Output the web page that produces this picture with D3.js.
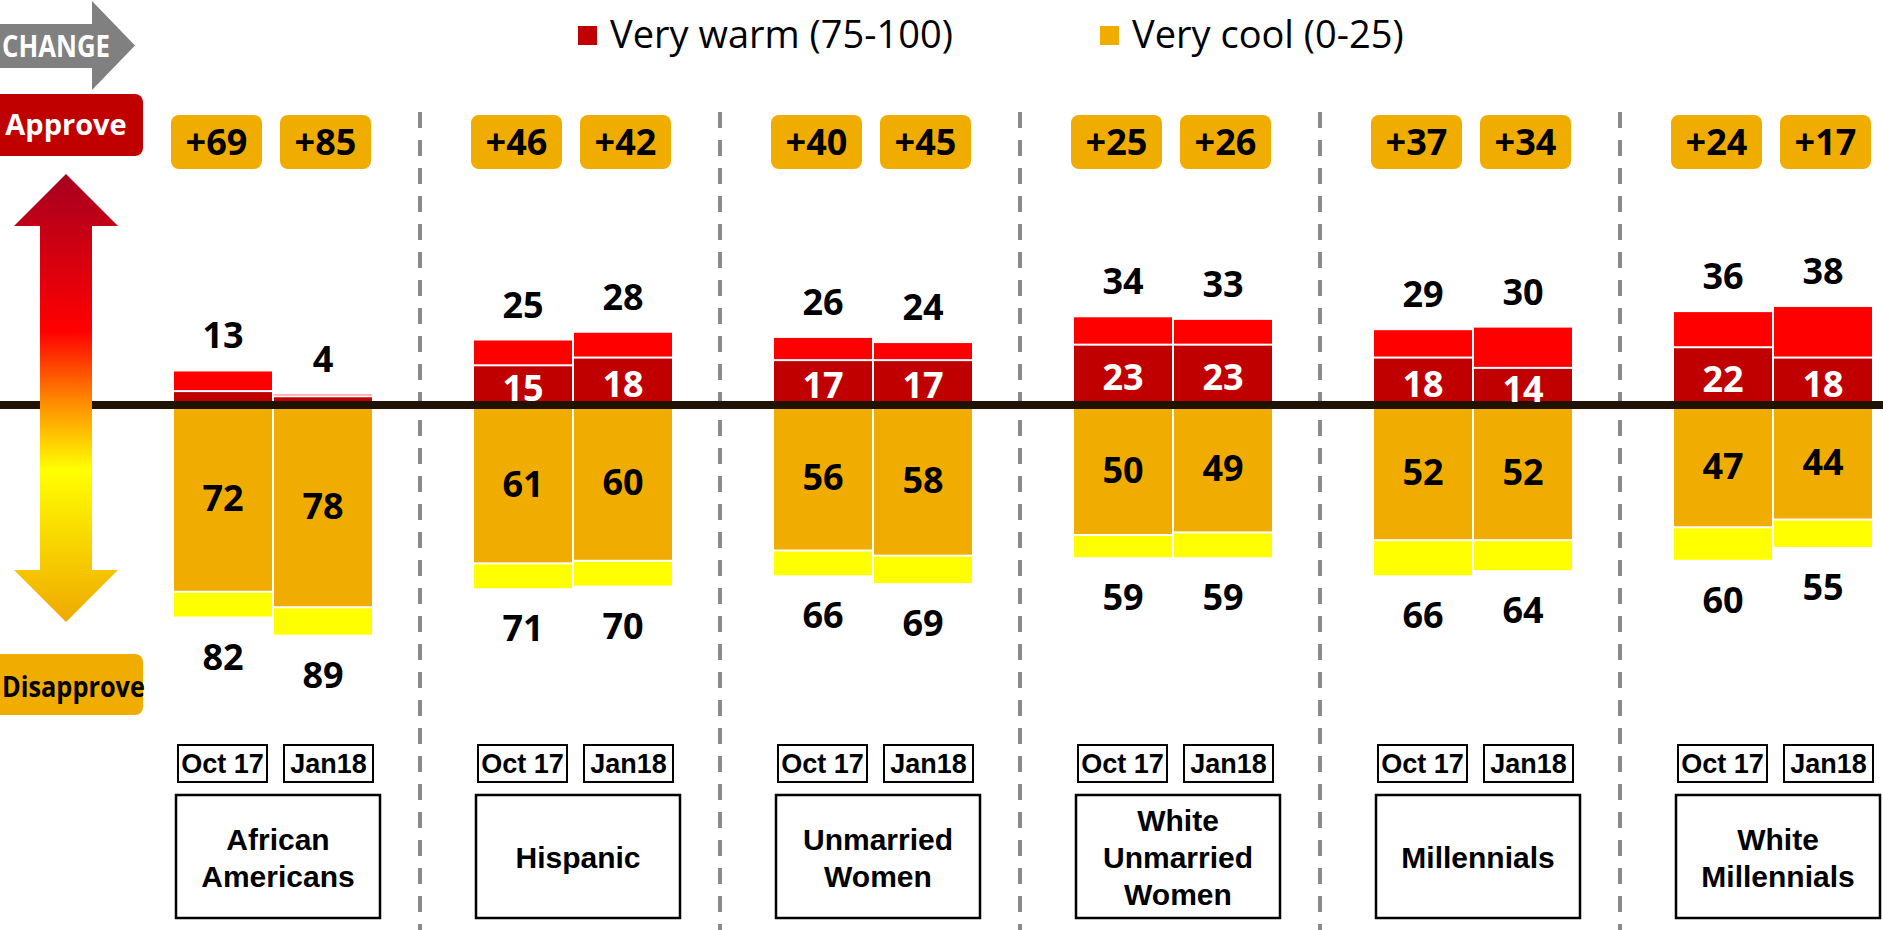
<!DOCTYPE html>
<html>
<head>
<meta charset="utf-8">
<script src="https://cdn.jsdelivr.net/npm/d3@7"></script>
<style>
  html, body { margin: 0; padding: 0; background: #fff; overflow: hidden; }
  svg { display: block; }
</style>
</head>
<body>
<svg id="chart" width="1883" height="930"></svg>
<script>
// ---------- DATA ----------
const groups = ["African Americans", "Hispanic", "Unmarried Women", "White Unmarried Women", "Millennials", "White Millennials"];
const groupLines = [["African", "Americans"], ["Hispanic"], ["Unmarried", "Women"], ["White", "Unmarried", "Women"], ["Millennials"], ["White", "Millennials"]];
const periods = ["Oct 17", "Jan18"];
// very warm (75-100) – dark red segment
const veryWarm = [[5, 3], [15, 18], [17, 17], [23, 23], [18, 14], [22, 18]];
// total warm – label above bar
const totalWarm = [[13, 4], [25, 28], [26, 24], [34, 33], [29, 30], [36, 38]];
// very cool (0-25) – orange segment
const veryCool = [[72, 78], [61, 60], [56, 58], [50, 49], [52, 52], [47, 44]];
// total cool – label below bar
const totalCool = [[82, 89], [71, 70], [66, 69], [59, 59], [66, 64], [60, 55]];
// net change labels
const netChange = [["+69", "+85"], ["+46", "+42"], ["+40", "+45"], ["+25", "+26"], ["+37", "+34"], ["+24", "+17"]];
const legendItems = ["Very warm (75-100)", "Very cool (0-25)"];

// ---------- STYLE ----------
const C = { darkRed: "#C00000", red: "#FF0000", orange: "#F0AD00", yellow: "#FFFF00", line: "#211206", grey: "#808080" };
const numFont = "'Open Sans', sans-serif";
const boxFont = "'Liberation Sans', Arial, sans-serif";

const svg = d3.select("#chart");

// ---------- SCALES ----------
const x = d3.scaleBand().domain(groups).range([123, 1923]).padding(0);
const xi = d3.scaleBand().domain(periods).range([50, 250]).paddingInner(0.02).paddingOuter(0.01);
const y = d3.scaleLinear().domain([-100, 100]).range([405 + 258, 405 - 258]);

// flatten
const rows = [];
groups.forEach((g, gi) => periods.forEach((p, pi) => rows.push({
  g, gi, p, pi,
  vw: veryWarm[gi][pi], tw: totalWarm[gi][pi],
  vc: veryCool[gi][pi], tc: totalCool[gi][pi],
  net: netChange[gi][pi],
  x0: x(g) + xi(p)
})));
const bw = xi.bandwidth();

// ---------- SEPARATORS ----------
svg.append("g").selectAll("line").data(groups.slice(1)).join("line")
  .attr("x1", d => x(d) - 3).attr("x2", d => x(d) - 3)
  .attr("y1", 112).attr("y2", 930)
  .attr("stroke", "#8a8a8a").attr("stroke-width", 4).attr("stroke-dasharray", "16 12");

// ---------- BARS ----------
const bars = svg.append("g");
bars.selectAll(".brt").data(rows).join("rect").attr("class", "brt")
  .attr("x", d => d.x0).attr("width", bw)
  .attr("y", d => y(d.tw)).attr("height", d => Math.max(0, y(d.vw) - 2 - y(d.tw)))
  .attr("fill", C.red);
bars.selectAll(".dk").data(rows).join("rect").attr("class", "dk")
  .attr("x", d => d.x0).attr("width", bw)
  .attr("y", d => y(d.vw)).attr("height", d => y(0) - y(d.vw))
  .attr("fill", C.darkRed);
bars.selectAll(".or").data(rows).join("rect").attr("class", "or")
  .attr("x", d => d.x0).attr("width", bw)
  .attr("y", y(0)).attr("height", d => y(-d.vc) - y(0))
  .attr("fill", C.orange);
bars.selectAll(".ye").data(rows).join("rect").attr("class", "ye")
  .attr("x", d => d.x0).attr("width", bw)
  .attr("y", d => y(-d.vc) + 2).attr("height", d => Math.max(0, y(-d.tc) - y(-d.vc) - 2))
  .attr("fill", C.yellow);

// ---------- BASELINE ----------
svg.append("line").attr("x1", 0).attr("x2", 1883).attr("y1", y(0)).attr("y2", y(0))
  .attr("stroke", C.line).attr("stroke-width", 8);

// ---------- BAR LABELS ----------
const lbl = svg.append("g").attr("font-family", numFont).attr("font-weight", 700).attr("font-size", 36).attr("text-anchor", "middle");
lbl.selectAll(".tw").data(rows).join("text").attr("class", "tw")
  .attr("x", d => d.x0 + bw / 2).attr("y", d => y(d.tw) - 23).text(d => d.tw);
lbl.selectAll(".tc").data(rows).join("text").attr("class", "tc")
  .attr("x", d => d.x0 + bw / 2).attr("y", d => y(-d.tc) + 53).text(d => d.tc);
lbl.selectAll(".vc").data(rows).join("text").attr("class", "vc")
  .attr("x", d => d.x0 + bw / 2).attr("y", d => (y(0) + y(-d.vc)) / 2 + 13).text(d => d.vc);
lbl.selectAll(".vw").data(rows.filter(d => d.vw >= 10)).join("text").attr("class", "vw")
  .attr("x", d => d.x0 + bw / 2).attr("y", d => (y(0) + 4 + y(d.vw)) / 2 + 13)
  .attr("fill", "#fff").text(d => d.vw);

// ---------- NET CHANGE BOXES ----------
const nc = svg.append("g");
nc.selectAll("rect").data(rows).join("rect")
  .attr("x", d => d.pi === 0 ? d.x0 - 3 : d.x0 + 6).attr("y", 115)
  .attr("width", 91).attr("height", 54).attr("rx", 8)
  .attr("fill", C.orange);
nc.selectAll("text").data(rows).join("text")
  .attr("x", d => (d.pi === 0 ? d.x0 - 3 : d.x0 + 6) + 45.5).attr("y", 155)
  .attr("text-anchor", "middle").attr("font-family", numFont).attr("font-weight", 700)
  .attr("font-size", 36).text(d => d.net);

// ---------- DATE BOXES ----------
const db = svg.append("g");
db.selectAll("rect").data(rows).join("rect")
  .attr("x", d => d.pi === 0 ? d.x0 + 4 : d.x0 + 10).attr("y", 745)
  .attr("width", 89).attr("height", 37)
  .attr("fill", "#fff").attr("stroke", "#000").attr("stroke-width", 2);
db.selectAll("text").data(rows).join("text")
  .attr("x", d => (d.pi === 0 ? d.x0 + 4 : d.x0 + 10) + 44.5).attr("y", 773)
  .attr("text-anchor", "middle").attr("font-family", boxFont).attr("font-weight", 700)
  .attr("font-size", 27).text(d => d.p);

// ---------- GROUP BOXES ----------
const gb = svg.append("g");
gb.selectAll("rect").data(groups).join("rect")
  .attr("x", d => x(d) + 53).attr("y", 795).attr("width", 204).attr("height", 123)
  .attr("fill", "#fff").attr("stroke", "#000").attr("stroke-width", 2.5);
groups.forEach((g, gi) => {
  const lines = groupLines[gi];
  gb.append("text").attr("font-family", boxFont).attr("font-weight", 700).attr("font-size", 30)
    .attr("text-anchor", "middle")
    .selectAll("tspan").data(lines).join("tspan")
    .attr("x", x(g) + 155)
    .attr("y", (d, i) => 868 + (i - (lines.length - 1) / 2) * 37)
    .text(d => d);
});

// ---------- LEFT DECORATIONS ----------
// CHANGE arrow
svg.append("path").attr("d", "M0,24 L92,24 L92,1 L135,45.5 L92,90 L92,68 L0,68 Z").attr("fill", C.grey);
svg.append("text").attr("x", 2).attr("y", 57)
  .attr("textLength", 108).attr("lengthAdjust", "spacingAndGlyphs")
  .attr("font-family", numFont).attr("font-weight", 700).attr("font-size", 30).attr("fill", "#fff").text("CHANGE");

// Approve
svg.append("rect").attr("x", -12).attr("y", 94).attr("width", 155).attr("height", 62).attr("rx", 8).attr("fill", C.darkRed);
svg.append("text").attr("x", 66).attr("y", 135).attr("text-anchor", "middle")
  .attr("font-family", numFont).attr("font-weight", 700).attr("font-size", 29).attr("fill", "#fff").text("Approve");

// gradient double arrow
const defs = svg.append("defs");
const grad = defs.append("linearGradient").attr("id", "ga").attr("x1", 0).attr("y1", 0).attr("x2", 0).attr("y2", 1);
[[0, "#A50021"], [0.35, "#FF0000"], [0.51, "#FF8C00"], [0.66, "#FFFF00"], [1, "#F0A800"]]
  .forEach(([o, c]) => grad.append("stop").attr("offset", o).attr("stop-color", c));
svg.append("path")
  .attr("d", "M66,174 L118,226 L92,226 L92,570 L118,570 L66,622 L14,570 L40,570 L40,226 L14,226 Z")
  .attr("fill", "url(#ga)");

// Disapprove
svg.append("rect").attr("x", -12).attr("y", 654).attr("width", 155).attr("height", 61).attr("rx", 8).attr("fill", C.orange);
svg.append("text").attr("x", 2).attr("y", 697)
  .attr("textLength", 143).attr("lengthAdjust", "spacingAndGlyphs")
  .attr("font-family", numFont).attr("font-weight", 700).attr("font-size", 29).attr("fill", "#000").text("Disapprove");

// ---------- LEGEND ----------
const legX = [578, 1100];
const legC = [C.darkRed, C.orange];
const leg = svg.append("g");
leg.selectAll("rect").data(legendItems).join("rect")
  .attr("x", (d, i) => legX[i]).attr("y", 26).attr("width", 19).attr("height", 19)
  .attr("fill", (d, i) => legC[i]);
leg.selectAll("text").data(legendItems).join("text")
  .attr("x", (d, i) => legX[i] + 32).attr("y", 48)
  .attr("font-family", numFont).attr("font-size", 38).attr("fill", "#000")
  .text(d => d);
</script>
</body>
</html>
